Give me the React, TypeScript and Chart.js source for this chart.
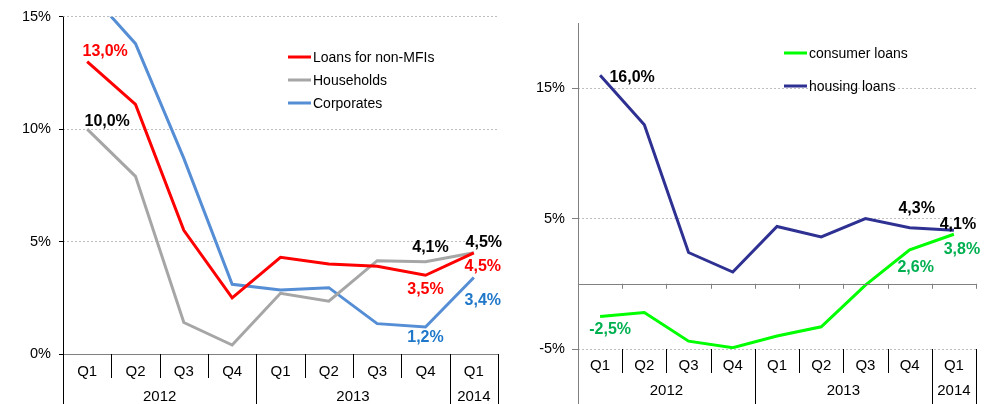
import React, { useEffect, useRef } from 'react';
import { Chart, registerables } from 'chart.js';
Chart.register(...registerables);

const quarters = ['Q1', 'Q2', 'Q3', 'Q4', 'Q1', 'Q2', 'Q3', 'Q4', 'Q1'];
const years = ['2012', '2013', '2014'];
const yearSpans = [4, 4, 1];

const loansNonMFI = [13.0, 11.1, 5.5, 2.5, 4.3, 4.0, 3.9, 3.5, 4.5];
const households = [10.0, 7.9, 1.4, 0.4, 2.7, 2.35, 4.15, 4.1, 4.5];
const corporates = [16.2, 13.8, 8.7, 3.1, 2.85, 2.95, 1.35, 1.2, 3.4];

const consumerLoans = [-2.5, -2.2, -4.4, -4.9, -4.0, -3.3, -0.1, 2.6, 3.8];
const housingLoans = [16.0, 12.2, 2.4, 0.9, 4.4, 3.6, 5.0, 4.3, 4.1];

const leftTicks = [0, 5, 10, 15];
const rightTicks = [-5, 5, 15];

const FONT = '"Liberation Sans", Arial, sans-serif';

type LabelSpec = { ds: number; i: number; color: string; dx: number; dy: number };

const leftLabelSpecs: LabelSpec[] = [
  { ds: 0, i: 0, color: '#FF0000', dx: 18, dy: -10 },
  { ds: 1, i: 0, color: '#000000', dx: 20, dy: -8 },
  { ds: 1, i: 7, color: '#000000', dx: 5, dy: -14 },
  { ds: 1, i: 8, color: '#000000', dx: 10, dy: -10 },
  { ds: 0, i: 7, color: '#FF0000', dx: 0, dy: 14 },
  { ds: 0, i: 8, color: '#FF0000', dx: 9, dy: 14 },
  { ds: 2, i: 7, color: '#1F77C9', dx: 0, dy: 11 },
  { ds: 2, i: 8, color: '#1F77C9', dx: 9, dy: 23 },
];

const rightLabelSpecs: LabelSpec[] = [
  { ds: 1, i: 0, color: '#000000', dx: 32, dy: 2 },
  { ds: 0, i: 0, color: '#00B050', dx: 10, dy: 13 },
  { ds: 1, i: 7, color: '#000000', dx: 7, dy: -19 },
  { ds: 1, i: 8, color: '#000000', dx: 4, dy: -6 },
  { ds: 0, i: 7, color: '#00B050', dx: 6, dy: 18 },
  { ds: 0, i: 8, color: '#00B050', dx: 8, dy: 15 },
];

const fmt = (v: number) => v.toFixed(1).replace('.', ',') + '%';

type AxisCfg = {
  yAxisColor: string;
  zeroLineColor: string;
  zeroTicks: boolean;
  qOffset: number;
  yearOffset: number;
  sepLen: number;
  legendX: number;
  legendY: number;
  legendGap: number;
  labels: LabelSpec[];
};

function makePlugin(cfg: AxisCfg) {
  return {
    id: 'custom',
    afterDraw(chart: any) {
      const { ctx, chartArea, scales } = chart;
      const x = scales.x;
      const y = scales.y;
      const H = chart.height;
      const n = quarters.length;
      const bounds: number[] = [];
      for (let i = 0; i <= n; i++) {
        if (i === 0) bounds.push(chartArea.left);
        else if (i === n) bounds.push(chartArea.right);
        else bounds.push((x.getPixelForValue(i - 1) + x.getPixelForValue(i)) / 2);
      }
      const yearBounds = new Set<number>([0]);
      let acc = 0;
      yearSpans.forEach((s) => { acc += s; yearBounds.add(acc); });

      ctx.save();
      const y0 = y.getPixelForValue(0);
      ctx.strokeStyle = cfg.zeroLineColor;
      ctx.lineWidth = 1;
      ctx.beginPath();
      ctx.moveTo(chartArea.left, Math.round(y0) + 0.5);
      ctx.lineTo(chartArea.right, Math.round(y0) + 0.5);
      ctx.stroke();
      if (cfg.zeroTicks) {
        bounds.forEach((b) => {
          ctx.beginPath();
          ctx.moveTo(Math.round(b) + 0.5, y0);
          ctx.lineTo(Math.round(b) + 0.5, y0 + 5);
          ctx.stroke();
        });
      }
      ctx.strokeStyle = cfg.yAxisColor;
      ctx.beginPath();
      ctx.moveTo(Math.round(chartArea.left) + 0.5, chartArea.top);
      ctx.lineTo(Math.round(chartArea.left) + 0.5, H);
      ctx.stroke();
      ctx.strokeStyle = '#000000';
      bounds.forEach((b, i) => {
        if (i === 0) return;
        ctx.beginPath();
        ctx.moveTo(Math.round(b) + 0.5, chartArea.bottom);
        ctx.lineTo(Math.round(b) + 0.5, yearBounds.has(i) ? H : chartArea.bottom + cfg.sepLen);
        ctx.stroke();
      });
      ctx.fillStyle = '#000000';
      ctx.font = `15px ${FONT}`;
      ctx.textAlign = 'center';
      ctx.textBaseline = 'middle';
      quarters.forEach((q, i) => {
        ctx.fillText(q, x.getPixelForValue(i), chartArea.bottom + cfg.qOffset);
      });
      let start = 0;
      years.forEach((yr, k) => {
        const end = start + yearSpans[k];
        ctx.fillText(yr, (bounds[start] + bounds[end]) / 2, chartArea.bottom + cfg.yearOffset);
        start = end;
      });
      ctx.font = `14px ${FONT}`;
      ctx.textAlign = 'left';
      chart.data.datasets.forEach((ds: any, k: number) => {
        const ly = cfg.legendY + k * cfg.legendGap;
        ctx.strokeStyle = ds.borderColor;
        ctx.lineWidth = 3;
        ctx.beginPath();
        ctx.moveTo(cfg.legendX, ly);
        ctx.lineTo(cfg.legendX + 23, ly);
        ctx.stroke();
        ctx.fillStyle = '#000000';
        ctx.fillText(ds.label, cfg.legendX + 25, ly + 1);
      });
      ctx.font = `bold 16px ${FONT}`;
      ctx.textAlign = 'center';
      cfg.labels.forEach((l) => {
        const pt = chart.getDatasetMeta(l.ds).data[l.i];
        const v = chart.data.datasets[l.ds].data[l.i];
        ctx.fillStyle = l.color;
        ctx.fillText(fmt(v), pt.x + l.dx, pt.y + l.dy);
      });
      ctx.restore();
    },
  };
}

function ds(label: string, data: number[], color: string) {
  return {
    label,
    data,
    borderColor: color,
    backgroundColor: color,
    borderWidth: 3,
    pointRadius: 0,
    tension: 0,
    fill: false,
  };
}

export default function App() {
  const leftRef = useRef<HTMLCanvasElement>(null);
  const rightRef = useRef<HTMLCanvasElement>(null);

  useEffect(() => {
    Chart.defaults.font.family = FONT;
    const left = new Chart(leftRef.current!, {
      type: 'line',
      data: {
        labels: quarters,
        datasets: [
          ds('Loans for non-MFIs', loansNonMFI, '#FF0000'),
          ds('Households', households, '#A6A6A6'),
          ds('Corporates', corporates, '#558ED5'),
        ],
      },
      options: {
        responsive: false,
        animation: false,
        layout: { padding: { left: 0, right: 12, top: 14, bottom: 50 } },
        plugins: { legend: { display: false }, tooltip: { enabled: false } },
        scales: {
          x: { type: 'category', offset: true, display: false },
          y: {
            min: 0,
            max: 15,
            afterBuildTicks: (s: any) => { s.ticks = leftTicks.map((v) => ({ value: v })); },
            afterFit: (s: any) => { s.width = 63; },
            ticks: { callback: (v: any) => v + '%', font: { size: 14.5 }, color: '#000', padding: 8 },
            grid: { color: '#BFBFBF', tickColor: '#000', tickLength: 4 },
            border: { display: false, dash: [2, 2] },
          },
        },
      },
      plugins: [makePlugin({
        yAxisColor: '#000000', zeroLineColor: '#808080', zeroTicks: false,
        qOffset: 18, yearOffset: 43, sepLen: 24,
        legendX: 288, legendY: 57, legendGap: 23, labels: leftLabelSpecs,
      })],
    } as any);

    const right = new Chart(rightRef.current!, {
      type: 'line',
      data: {
        labels: quarters,
        datasets: [
          ds('consumer loans', consumerLoans, '#00FF00'),
          ds('housing loans', housingLoans, '#2E3192'),
        ],
      },
      options: {
        responsive: false,
        animation: false,
        layout: { padding: { left: 0, right: 13, top: 23, bottom: 55 } },
        plugins: { legend: { display: false }, tooltip: { enabled: false } },
        scales: {
          x: { type: 'category', offset: true, display: false },
          y: {
            min: -5,
            max: 20,
            afterBuildTicks: (s: any) => { s.ticks = rightTicks.map((v) => ({ value: v })); },
            afterFit: (s: any) => { s.width = 78; },
            ticks: { callback: (v: any) => v + '%', font: { size: 14.5 }, color: '#000', padding: 7 },
            grid: { color: '#BFBFBF', tickColor: '#808080', tickLength: 6 },
            border: { display: false, dash: [2, 2] },
          },
        },
      },
      plugins: [makePlugin({
        yAxisColor: '#808080', zeroLineColor: '#808080', zeroTicks: true,
        qOffset: 17, yearOffset: 42, sepLen: 24,
        legendX: 284, legendY: 53, legendGap: 33, labels: rightLabelSpecs,
      })],
    } as any);

    return () => {
      left.destroy();
      right.destroy();
    };
  }, []);

  return (
    <div style={{ position: 'absolute', left: 0, top: 0, width: 989, height: 404, background: '#fff' }}>
      <canvas ref={leftRef} width={510} height={404} style={{ position: 'absolute', left: 0, top: 0, width: 510, height: 404 }} />
      <canvas ref={rightRef} width={489} height={404} style={{ position: 'absolute', left: 500, top: 0, width: 489, height: 404 }} />
    </div>
  );
}
